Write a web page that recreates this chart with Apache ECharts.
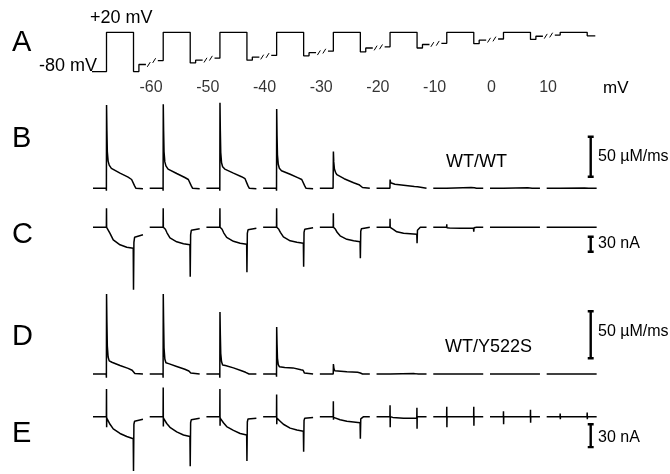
<!DOCTYPE html>
<html><head><meta charset="utf-8">
<script src="https://cdn.jsdelivr.net/npm/echarts@6/dist/echarts.min.js"></script>
<style>html,body{margin:0;padding:0;background:#fff}#c{width:670px;height:474px}</style>
</head><body><div id="c"></div>
<script>
// ---------- DATA ----------
// test potentials labelled under the protocol (mV)
const testLabels = ['-60','-50','-40','-30','-20','-10','0','10'];
const pulseLevel = 20;          // +20 mV prepulse
const holdLevel = -80;          // -80 mV holding
// protocol levels per sweep (mV): before pulse, after pulse, small step before the break
const preLevel  = [-80,-52,-46,-39,-28,-17,-8,3,13];
const postLevel = [-80,-58,-51,-40,-30,-20,-9,2,11];
const stepLevel = [-62,-51,-43,-32,-20,-11,0,10];
// sweep timing (ms)
const sweepPeriod = 210;
const pulseOn = 50, pulseOff = 150;

// B: Ca release flux WT/WT (µM/ms), one keypoint list [t ms, value] per sweep
const releaseWT = [
 [[0,0],[49,0],[49.6,-3],[50.2,104],[51.5,72],[53,46],[56,34],[60,29],[68,25],[100,19],[130,14],[143,11],[149,9],[154,3],[159,0],[163,-1],[185,-0.5]],
 [[0,0],[49,0],[49.6,-3],[50.2,105],[51.5,72],[53,46],[56,33],[60,28],[68,24],[100,18.5],[130,13.5],[143,11],[149,9],[154,3],[159,0],[163,-1],[185,-0.5]],
 [[0,0],[49,0],[49.6,-3],[50.2,107],[51.5,72],[53,45],[56,32],[60,27],[68,24],[100,19],[130,14.5],[143,12],[149,9.5],[154,3],[159,0],[163,-1],[185,-0.5]],
 [[0,0],[49,0],[49.6,-3],[50.2,99],[51.5,66],[53,42],[56,30],[60,25],[68,22],[100,17.5],[130,13],[143,11],[149,9],[154,3],[159,0],[163,-1],[185,-0.5]],
 [[0,0],[49,0],[49.6,-2],[50.2,46],[51.5,33],[54,24],[58,20],[63,17],[90,12],[125,7],[145,4.5],[152,3],[158,1],[163,0],[185,0]],
 [[0,0],[49.5,0],[50.2,11],[52,7],[56,5.5],[68,5],[100,3.8],[140,2.2],[152,1.8],[158,0],[185,0]],
 [[0,0],[49.5,0],[51,1.8],[56,1.3],[140,1],[152,0.6],[160,0],[185,0]],
 [[0,0],[50,0],[52,0.8],[140,0.6],[156,0],[185,0]],
 [[0,0],[50,0],[52,0.4],[140,0.4],[156,0],[185,0]]
];
// C: current WT/WT (nA)
const currentWT = [
 [[0,0],[49.5,0],[50,38],[50.5,0],[53,-1],[57,-3],[63,-12],[75,-25],[100,-35],[125,-40],[149,-42],[150,-125],[151.5,-30],[154,-20],[160,-16],[185,-15]],
 [[0,0],[49.5,0],[50,38],[50.5,0],[54,-1],[58,-4],[64,-11],[75,-21],[100,-29],[125,-33],[149,-35],[150,-99],[151.5,-15],[154,-6],[160,-4],[185,-3]],
 [[0,0],[49.5,0],[50,38],[50.5,0],[54,-1],[58,-4],[64,-11],[75,-20],[100,-28],[125,-32],[149,-34],[150,-90],[151.5,-12],[154,-5],[160,-3],[185,-2]],
 [[0,0],[49.5,0],[50,38],[50.5,0],[54,-1],[58,-4],[64,-10],[75,-19],[100,-27],[125,-30],[149,-32],[150,-79],[151.5,-10],[154,-4],[160,-2],[185,-1]],
 [[0,0],[49.5,0],[50,28],[50.5,0],[54,-1],[58,-4],[64,-10],[75,-17],[100,-24],[125,-27],[149,-29],[150,-62],[151.5,-8],[154,-3],[160,-1],[185,0]],
 [[0,0],[49.5,0],[50,17],[50.5,0],[55,-1],[62,-4],[75,-9],[100,-12],[149,-14],[150,-32],[151.5,-6],[155,-2],[162,0],[185,0]],
 [[0,0],[49.5,0],[50,6],[50.5,-1],[60,-1.5],[100,-2],[149,-2],[150,-9],[151,-1],[160,0],[185,0]],
 [[0,0],[49.5,0],[50,4],[50.5,-2],[51,0],[149.5,0],[150,4],[150.5,-3],[151,0],[185,0]],
 [[0,0],[49.5,0],[50,3],[50.5,-1],[51,0],[149.5,0],[150,2],[150.5,-3],[151,0],[185,0]]
];
// D: Ca release flux WT/Y522S (µM/ms)
const releaseY522S = [
 [[0,0],[49,0],[49.6,-4],[50.2,85],[51.5,55],[53,30],[56,18],[60,14],[70,12.5],[100,9],[130,6],[145,4],[150,3],[155,0.5],[160,0],[185,0]],
 [[0,0],[49,0],[49.6,-4],[50.2,85],[51.5,55],[53,28],[56,16],[60,12],[70,11],[100,8],[130,5],[145,3.2],[152,1],[158,0],[185,0]],
 [[0,0],[49,0],[49.6,-4],[50.2,66],[51.5,42],[53,22],[56,13],[60,9.6],[70,9],[100,6.5],[130,3.5],[145,1.8],[152,0.5],[158,0],[185,0]],
 [[0,0],[49,0],[49.6,-3],[50.2,50],[51.5,32],[53,17],[56,10],[60,7.8],[80,7],[110,6.5],[140,4.5],[148,4],[153,1],[158,0],[185,0]],
 [[0,0],[49.5,0],[49.8,-2],[50.3,10.6],[52,6],[55,3.5],[60,3.2],[100,2.5],[140,1.8],[150,1],[158,0],[185,0]],
 [[0,0],[50,0],[52,0.6],[140,0.4],[155,0],[185,0]],
 [[0,0],[185,0]],
 [[0,0],[185,0]],
 [[0,0],[185,0]]
];
// E: current WT/Y522S (nA)
const currentY522S = [
 [[0,0],[49.5,0],[50,36],[50.5,-14],[51,-2],[55,-4],[63,-10],[75,-16],[100,-22],[125,-26],[149,-29],[150,-71],[151.5,-10],[154,-6],[160,-4.5],[185,-3.5]],
 [[0,0],[49.5,0],[50,38],[50.5,-13],[51,-2],[55,-4],[63,-9],[75,-14],[100,-20],[125,-24],[149,-26],[150,-65],[151.5,-8],[154,-4],[160,-2.5],[185,-2]],
 [[0,0],[49.5,0],[50,36],[50.5,-12],[51,-2],[55,-3],[63,-8],[75,-13],[100,-18],[125,-22],[149,-24],[150,-58],[151.5,-7],[154,-3],[160,-2],[185,-2]],
 [[0,0],[49.5,0],[50,29],[50.5,-10],[51,-2],[55,-3],[63,-6],[75,-10],[100,-15],[125,-17.5],[149,-19],[150,-46],[151.5,-5],[154,-2],[160,-1],[185,-1]],
 [[0,0],[49.5,0],[50,20],[50.5,-4],[51,-1],[58,-2],[75,-4],[100,-6],[149,-8],[150,-29],[151.5,-3],[155,-1],[162,0],[185,0]],
 [[0,0],[49.5,0],[50,15],[50.5,-14],[51,0],[60,-1],[100,-2],[149,-2],[149.5,11.5],[150,-16],[150.5,0],[185,0]],
 [[0,0],[49.5,0],[50,13],[50.5,-14],[51,0],[149.5,0],[150,13],[150.5,-12],[151,0],[185,0]],
 [[0,0],[49.5,0],[50,7],[50.5,-10],[51,0],[149.5,0],[150,9],[150.5,-8],[151,0],[185,0]],
 [[0,0],[49.5,0],[50,4],[50.5,-3.5],[51,0],[149.5,0],[150,5.5],[150.5,-3.5],[151,0],[185,0]]
];
// scale bars
const fluxBar = 50;     // µM/ms
const currentBar = 30;  // nA

// ---------- LAYOUT ----------
const FONT = '"Liberation Sans", Arial, Helvetica, sans-serif';
const X0 = 93, XW = 505, TMAX = 1870;
const grids = [
  {top: 8.8,   height: 94.1, min: -160, max: 80},   // A
  {top: 96.3,  height: 104,  min: -15,  max: 115},  // B
  {top: 204.8, height: 90,   min: -135, max: 45},   // C
  {top: 289.4, height: 94,   min: -10,  max: 90},   // D
  {top: 382.2, height: 93.6, min: -75,  max: 45}    // E
];
const barT = 1843, capW = 11;
const barBase = [null, 14.5, -48.8, 16.7, -39.9];
const barLen = [null, fluxBar, currentBar, fluxBar, currentBar];

const LW = 1.5;
function lineSeries(gi, pts, w) {
  return {type: 'line', xAxisIndex: gi, yAxisIndex: gi, data: pts, symbol: 'none', showSymbol: false,
    lineStyle: {color: '#000', width: w || LW, join: 'bevel'}, silent: true, animation: false, clip: false};
}

const series = [];
// protocol (panel A)
for (let k = 0; k < preLevel.length; k++) {
  const o = k * sweepPeriod;
  const pts = [];
  pts.push([o + (k === 0 ? -5 : 30), preLevel[k]]);
  pts.push([o + pulseOn, preLevel[k]]);
  pts.push([o + pulseOn, pulseLevel]);
  pts.push([o + pulseOff, pulseLevel]);
  pts.push([o + pulseOff, postLevel[k]]);
  if (k < stepLevel.length) {
    pts.push([o + 170, postLevel[k]]);
    pts.push([o + 170, stepLevel[k]]);
    pts.push([o + 196, stepLevel[k]]);
  } else {
    pts.push([o + 180, postLevel[k]]);
  }
  series.push(lineSeries(0, pts, 1.3));
  if (k < stepLevel.length) {
    // break marks "//"
    series.push(lineSeries(0, [[o + 201, stepLevel[k] - 6], [o + 212, stepLevel[k] + 6]], 1));
    series.push(lineSeries(0, [[o + 221, preLevel[k + 1] - 6], [o + 232, preLevel[k + 1] + 6]], 1));
  }
}
// test-potential labels under the protocol
series.push({type: 'scatter', xAxisIndex: 0, yAxisIndex: 0, symbolSize: 0, silent: true, animation: false,
  data: testLabels.map((s, i) => ({value: [(i + 1) * sweepPeriod + 5, -122], name: s})),
  label: {show: true, position: 'inside', formatter: p => p.name, color: '#000', fontSize: 16, fontFamily: FONT}});

// traces B-E
[releaseWT, currentWT, releaseY522S, currentY522S].forEach((sweeps, idx) => {
  const gi = idx + 1;
  sweeps.forEach((pts, k) => {
    series.push(lineSeries(gi, pts.map(p => [p[0] + k * sweepPeriod, p[1]])));
  });
  const b = barBase[gi], L = barLen[gi];
  series.push(lineSeries(gi, [[barT - capW, b], [barT + capW, b], [barT, b], [barT, b + L], [barT - capW, b + L], [barT + capW, b + L]], 2.4));
});

const chart = echarts.init(document.getElementById('c'), null, {renderer: 'canvas'});
const txt = (text, x, y, size, align) => ({type: 'text', x: x, y: y, silent: true,
  style: {text: text, font: size + 'px ' + FONT, fill: '#000', textAlign: align || 'left', textVerticalAlign: 'middle', align: align || 'left', verticalAlign: 'middle'}});

chart.setOption({
  animation: false,
  backgroundColor: '#fff',
  grid: grids.map(g => ({left: X0, width: XW, top: g.top, height: g.height, containLabel: false})),
  xAxis: grids.map((g, i) => ({type: 'value', gridIndex: i, min: 0, max: TMAX, show: false})),
  yAxis: grids.map((g, i) => ({type: 'value', gridIndex: i, min: g.min, max: g.max, show: false})),
  series: series,
  graphic: [
    txt('A', 12, 43, 29), txt('B', 12, 139, 29), txt('C', 12, 235, 29), txt('D', 12, 337, 29), txt('E', 12, 434, 29),
    txt('+20 mV', 90, 18, 18), txt('-80 mV', 97, 66, 18, 'right'), txt('mV', 603, 88, 17),
    txt('WT/WT', 446, 162, 18), txt('WT/Y522S', 445, 347, 18),
    txt('50 µM/ms', 598, 157, 16), txt('30 nA', 598, 244, 16),
    txt('50 µM/ms', 598, 332, 16), txt('30 nA', 598, 438, 16)
  ]
});
</script></body></html>
